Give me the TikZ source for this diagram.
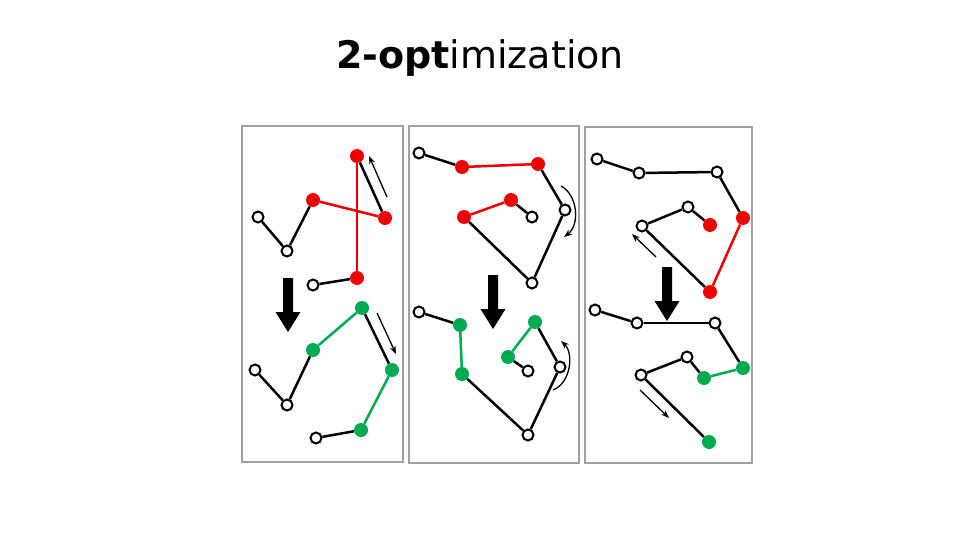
\documentclass[tikz,border=0pt]{standalone}
\usepackage{fontspec}
\setmainfont{DejaVu Sans}
\usetikzlibrary{arrows.meta}
\definecolor{tourred}{RGB}{240,0,0}
\definecolor{tourgreen}{RGB}{0,170,80}
\definecolor{framegray}{RGB}{160,160,160}

\begin{document}
\begin{tikzpicture}[x=1pt, y=-1pt,
		opn/.style={circle, draw=black, fill=white, line width=2pt, inner sep=0pt, minimum size=11pt},
		redpt/.style={circle, fill=tourred, inner sep=0pt, minimum size=14pt},
		grnpt/.style={circle, fill=tourgreen, inner sep=0pt, minimum size=14pt},
		edge/.style={line width=2.5pt},
		rededge/.style={line width=2.5pt, tourred},
		grnedge/.style={line width=2.5pt, tourgreen},
		panel/.style={draw=framegray, line width=2pt},
		hint/.style={-{Stealth[length=8pt, width=6pt]}, line width=1.3pt}]
	\useasboundingbox (0,0) rectangle (960,540);
	
	% Title
	\node[font=\fontsize{38}{46}\selectfont] (title) at (480,58) {\textbf{2-opt}imization};
	
	% Draw panels
	\draw[panel] (242,126) rectangle (403,462);
	\draw[panel] (409,126) rectangle (579,463);
	\draw[panel] (585,127) rectangle (752,463);
	
	% Big arrows between the tours
	\foreach \ax/\ay in {288/278, 493/275, 667/267}
		\fill (\ax-5,\ay) -- (\ax+5,\ay) -- (\ax+5,\ay+34) -- (\ax+12.5,\ay+34)
			-- (\ax,\ay+54) -- (\ax-12.5,\ay+34) -- (\ax-5,\ay+34) -- cycle;
	
	% --- Panel 1 ---
	\node[opn] (a1) at (258,217) {};
	\node[opn] (a2) at (287,251) {};
	\node[redpt] (a3) at (313,200) {};
	\node[redpt] (a4) at (385,218) {};
	\node[redpt] (a5) at (357,156) {};
	\node[redpt] (a6) at (357,278) {};
	\node[opn] (a7) at (313,285) {};
	\foreach \u/\v in {a1/a2, a2/a3, a4/a5, a6/a7}
		\draw[edge] (\u) -- (\v);
	\foreach \u/\v in {a3/a4, a5/a6}
		\draw[rededge] (\u) -- (\v);
	\draw[hint] (387,197) -- (369,156);
	
	\node[opn] (b1) at (255,370) {};
	\node[opn] (b2) at (287,405) {};
	\node[grnpt] (b3) at (313,350) {};
	\node[grnpt] (b4) at (362,308) {};
	\node[grnpt] (b5) at (392,370) {};
	\node[grnpt] (b6) at (361,430) {};
	\node[opn] (b7) at (316,438) {};
	\foreach \u/\v in {b1/b2, b2/b3, b4/b5, b6/b7}
		\draw[edge] (\u) -- (\v);
	\foreach \u/\v in {b3/b4, b5/b6}
		\draw[grnedge] (\u) -- (\v);
	\draw[hint] (377,313) -- (396,354);
	
	% --- Panel 2 ---
	\node[opn] (c1) at (419,153) {};
	\node[redpt] (c2) at (462,167) {};
	\node[redpt] (c3) at (538,164) {};
	\node[opn] (c4) at (565,210) {};
	\node[opn] (c5) at (532,283) {};
	\node[redpt] (c6) at (464,217) {};
	\node[redpt] (c7) at (511,200) {};
	\node[opn] (c8) at (532,217) {};
	\foreach \u/\v in {c1/c2, c3/c4, c4/c5, c5/c6, c7/c8}
		\draw[edge] (\u) -- (\v);
	\foreach \u/\v in {c2/c3, c6/c7}
		\draw[rededge] (\u) -- (\v);
	\draw[hint] (561,186) .. controls (578,195) and (580,225) .. (564,237);
	
	\node[opn] (d1) at (419,312) {};
	\node[grnpt] (d2) at (460,325) {};
	\node[grnpt] (d3) at (462,374) {};
	\node[opn] (d4) at (528,435) {};
	\node[opn] (d5) at (560,367) {};
	\node[grnpt] (d6) at (535,322) {};
	\node[grnpt] (d7) at (508,357) {};
	\node[opn] (d8) at (528,371) {};
	\foreach \u/\v in {d1/d2, d3/d4, d4/d5, d5/d6, d7/d8}
		\draw[edge] (\u) -- (\v);
	\foreach \u/\v in {d2/d3, d6/d7}
		\draw[grnedge] (\u) -- (\v);
	\draw[hint] (553,390) .. controls (571,383) and (574,353) .. (561,341);
	
	% --- Panel 3 ---
	\node[opn] (e1) at (597,159) {};
	\node[opn] (e2) at (639,173) {};
	\node[opn] (e3) at (717,172) {};
	\node[redpt] (e4) at (743,218) {};
	\node[redpt] (e5) at (710,292) {};
	\node[opn] (e6) at (642,226) {};
	\node[opn] (e7) at (688,207) {};
	\node[redpt] (e8) at (710,225) {};
	\foreach \u/\v in {e1/e2, e2/e3, e3/e4, e5/e6, e6/e7, e7/e8}
		\draw[edge] (\u) -- (\v);
	\draw[rededge] (e4) -- (e5);
	\draw[hint] (656,257) -- (632,234);
	
	\node[opn] (f1) at (595,310) {};
	\node[opn] (f2) at (637,323) {};
	\node[opn] (f3) at (715,323) {};
	\node[grnpt] (f4) at (743,368) {};
	\node[grnpt] (f5) at (704,378) {};
	\node[opn] (f6) at (687,357) {};
	\node[opn] (f7) at (641,375) {};
	\node[grnpt] (f8) at (709,442) {};
	\foreach \u/\v in {f1/f2, f2/f3, f3/f4, f5/f6, f6/f7, f7/f8}
		\draw[edge] (\u) -- (\v);
	\draw[grnedge] (f4) -- (f5);
	\draw[hint] (640,390) -- (669,418);
	
\end{tikzpicture}
\end{document}
